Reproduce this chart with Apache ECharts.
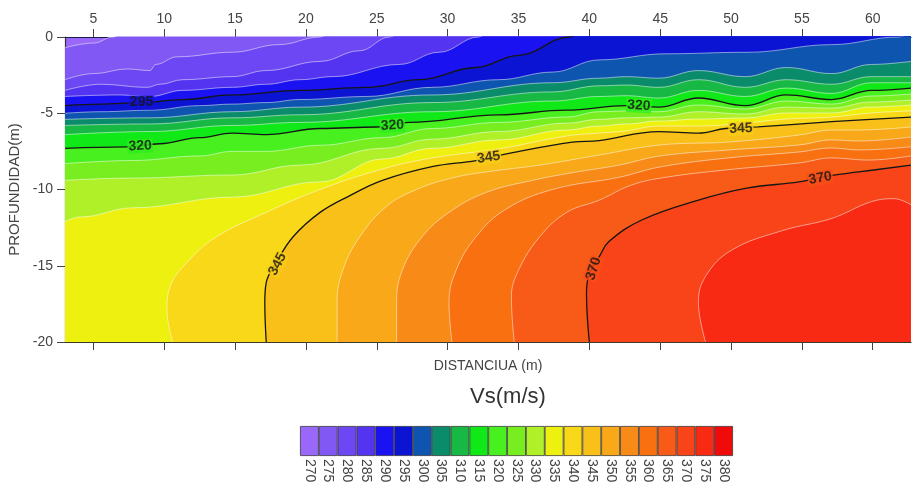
<!DOCTYPE html>
<html>
<head>
<meta charset="utf-8">
<title>Perfil Vs</title>
<script src="https://cdn.jsdelivr.net/npm/echarts@6/dist/echarts.min.js"></script>
<style>
  html,body{margin:0;padding:0;background:#fff;}
  #perfil-chart{width:912px;height:488px;}
</style>
</head>
<body>
<div id="perfil-chart"></div>
<script>
  /* escala de colores Vs (m/s) */
  var niveles = [270,275,280,285,290,295,300,305,310,315,320,325,330,335,340,345,350,355,360,365,370,375,380];
  var coloresNivel = ['#9a68f8','#8258f5','#6c47f3','#5434f1','#1a12f0','#0a14d2','#0e55b0','#0a8c6a','#18b844',
    '#10e818','#48f020','#78ee20','#b0f028','#eef010','#f8d818','#f8c018','#f8a818','#f88a18','#f87010',
    '#f85a18','#f84418','#f82a14','#f00a0a'];
  var ticksDistancia = [5,10,15,20,25,30,35,40,45,50,55,60];

  var iso275 = [[3,-0.7],[5,-0.4],[6.4,0],[8,1.5],[62.7,1.5]];
  var iso280 = [[3,-2.8],[5,-2.4],[7.4,-2.1],[9,-2.2],[9.4,-1.8],[10.9,-1.3],[14.8,-1.0],[18.1,-0.5],[21,0],[23,1.5],[62.7,1.5]];
  var iso285 = [[3,-3.5],[5.5,-3.1],[8.8,-3.3],[9.7,-3.1],[11.3,-2.8],[14.8,-2.6],[17.2,-2.2],[21,-1.6],[23.8,-0.9],[25.9,0],[28,1.5],[62.7,1.5]];
  var iso290 = [[3,-3.9],[6.7,-3.8],[9,-3.9],[11.3,-3.5],[14.8,-3.3],[17.2,-3.1],[19.6,-2.8],[21.9,-2.6],[26.6,-1.8],[29.4,-1.0],[32.2,0],[34,1.5],[62.7,1.5]];
  var iso295 = [[3,-4.5],[5.5,-4.4],[8.4,-4.3],[11.3,-4.1],[14.8,-3.8],[19.6,-3.5],[24.3,-3.3],[28,-2.8],[32,-2.0],[35,-1.2],[38.6,0],[40.5,1.5],[62.7,1.5]];
  var iso300 = [[3,-5.0],[5.5,-4.9],[9,-4.8],[12.5,-4.5],[14.8,-4.4],[17.2,-4.3],[19.6,-4.1],[24.3,-3.9],[28.9,-3.3],[33.6,-2.8],[37.4,-2.3],[40.7,-1.5],[45.4,-1.1],[51.2,-1.0],[57.1,-0.5],[61.8,0],[62.7,0.3]];
  var iso305 = [[3,-5.4],[9,-5.3],[14.8,-4.9],[19.6,-4.6],[28.9,-3.8],[37.4,-3.0],[40.7,-2.7],[42.6,-2.6],[44.9,-2.7],[47.7,-2.2],[51,-2.6],[53.9,-2.0],[57.1,-2.4],[59.9,-1.8],[62.7,-1.6]];
  var iso310 = [[3,-5.8],[9,-5.7],[14.8,-5.3],[19.6,-5.1],[28.9,-4.3],[37.4,-3.6],[40.7,-3.2],[42.6,-3.15],[44.9,-3.3],[47.7,-2.8],[51,-3.3],[53.9,-2.8],[57.1,-3.1],[59.9,-2.6],[62.7,-2.6]];
  var iso315 = [[3,-6.4],[9,-6.2],[14.8,-5.8],[19.6,-5.6],[28.9,-4.9],[37.4,-4.2],[40.7,-3.9],[42.6,-3.85],[44.9,-4.0],[47.7,-3.5],[51,-3.9],[53.9,-3.35],[57.1,-3.7],[59.9,-3.0],[62.7,-3.0]];
  var iso320 = [[3,-7.3],[7.4,-7.2],[9.7,-7.0],[12.5,-6.6],[14.8,-6.3],[17.2,-6.4],[21,-6.0],[25,-5.9],[27.3,-5.6],[33.6,-5.1],[38.4,-4.8],[42.6,-4.5],[44.9,-4.6],[47.7,-4.0],[51,-4.5],[53.9,-3.8],[57.1,-4.1],[59.9,-3.5],[62.7,-3.35]];
  var iso325 = [[3,-8.3],[7.8,-8.1],[12.5,-7.8],[14.8,-7.5],[17.2,-7.5],[21,-7.1],[25.4,-6.6],[28.9,-6.0],[33.6,-5.6],[38.4,-5.25],[40.7,-4.9],[42.6,-4.85],[44.9,-4.9],[47.7,-4.46],[51,-4.72],[53.9,-4.2],[57.1,-4.4],[59.9,-3.87],[62.7,-3.74]];
  var iso330 = [[3,-9.4],[7.8,-9.25],[14.8,-9.05],[19.6,-8.4],[25.4,-7.3],[28.9,-6.7],[33.6,-6.2],[38.4,-5.65],[40.7,-5.4],[42.6,-5.3],[44.9,-5.25],[47.7,-4.9],[51,-5.05],[53.9,-4.6],[57.1,-4.66],[59.9,-4.26],[62.7,-4.13]];
  var iso335 = [[3,-12.1],[4.1,-11.8],[7.8,-11.2],[14.8,-10.5],[21,-9.5],[25.4,-8.0],[28.9,-7.3],[33.6,-6.75],[38.4,-6.1],[40.7,-5.84],[42.6,-5.7],[44.9,-5.51],[47.7,-5.38],[51,-5.31],[53.9,-4.98],[57.1,-4.98],[59.9,-4.59],[62.7,-4.46]];
  var iso340 = [[10.6,-20],[10.2,-17.9],[10.4,-16.4],[11.6,-14.8],[13.7,-13.1],[17.2,-11.5],[21,-10.0],[25.4,-8.66],[28.9,-7.93],[33.6,-7.34],[38.4,-6.49],[40.7,-6.3],[42.6,-6.16],[44.9,-5.84],[47.7,-5.84],[51,-5.64],[53.9,-5.38],[57.1,-5.25],[59.9,-4.98],[62.7,-4.85]];
  var iso345 = [[17.2,-20],[17.1,-17.4],[17.2,-16.1],[17.9,-14.8],[19.1,-13.1],[21,-11.5],[23.1,-10.4],[25.4,-9.4],[28.9,-8.5],[32,-8.1],[34.5,-7.6],[38.8,-6.9],[40.7,-6.8],[44.9,-6.2],[47.7,-6.3],[49.6,-6.0],[51.9,-5.9],[57.1,-5.55],[62.7,-5.25]];
  var iso350 = [[22.2,-20],[22.2,-17.4],[22.6,-15.3],[23.8,-13.1],[25.7,-11.1],[27.8,-10.0],[30.3,-9.25],[32.7,-8.85],[36.5,-8.4],[40.7,-7.74],[45,-7.08],[49.8,-6.89],[54.8,-6.43],[57.1,-6.1],[59,-6.1],[62.7,-5.9]];
  var iso355 = [[26.4,-20],[26.4,-17.4],[26.8,-15.3],[28.2,-13.1],[30.1,-11.5],[32.7,-10.2],[36,-9.4],[38.8,-8.9],[42.1,-8.4],[45,-7.8],[49.8,-7.41],[54.8,-7.08],[57.1,-6.75],[59,-6.82],[62.7,-6.56]];
  var iso360 = [[30.3,-20],[30.1,-17.4],[30.6,-15.3],[32,-13.1],[34.1,-11.3],[37.4,-10.0],[42.1,-9.2],[45,-8.52],[49.8,-7.93],[54.8,-7.54],[57.1,-7.28],[59,-7.41],[62.7,-7.2]];
  var iso365 = [[34.7,-20],[34.5,-17.05],[35,-15.3],[36.5,-13.1],[38.4,-11.5],[40.7,-10.7],[43,-9.7],[45.4,-9.2],[49.6,-8.72],[54.8,-8.26],[57.1,-7.93],[59.7,-8.07],[62.7,-7.8]];
  var iso370 = [[40,-20],[39.8,-16.8],[40,-15.5],[40.7,-14.4],[41.4,-13.4],[43.7,-12.0],[47.7,-10.7],[51.2,-9.9],[54.8,-9.5],[56.9,-9.1],[59,-8.85],[62.7,-8.4]];
  var iso375 = [[48.2,-20],[47.7,-17.4],[48.2,-15.7],[50,-14.0],[53.6,-12.7],[57.1,-11.9],[59.9,-10.8],[61.5,-10.6],[62.7,-11.0]];

  var isolineas = [iso275,iso280,iso285,iso290,iso295,iso300,iso305,iso310,iso315,iso320,iso325,
    iso330,iso335,iso340,iso345,iso350,iso355,iso360,iso365,iso370,iso375];

  /* etiquetas de las isolineas negras */
  var etiquetasTexto = ['295','320','320','320','345','345','345','370','370'];
  var etiquetasPos = [[8.4,-4.3],[8.3,-7.15],[26.1,-5.8],[43.5,-4.5],[18,-14.9],[32.9,-7.9],[50.7,-6.0],[40.3,-15.2],[56.3,-9.25]];
  var etiquetasGiro = [0,3,3,-3,62,8,3,72,10];
  var etiquetasFondo = ['#1212d8','#30ec1c','#30ec1c','#30ec1c','#f8cc18','#f8cc18','#f8cc18','#f84f18','#f84f18'];

  var chart = echarts.init(document.getElementById('perfil-chart'));
  var fuente = 'Liberation Sans, Arial, sans-serif';

  var series = [];
  isolineas.forEach(function (iso, i) {
    var nivel = niveles[i + 1];
    var negra = (nivel - 270) % 25 === 0;
    series.push({
      type: 'line',
      xAxisIndex: 0,
      yAxisIndex: 0,
      data: iso,
      smooth: 0.4,
      smoothMonotone: nivel <= 335 ? 'x' : null,
      symbol: 'none',
      clip: true,
      silent: true,
      lineStyle: {color: negra ? '#161616' : 'rgba(255,255,255,0.5)', width: negra ? 1.3 : 1},
      areaStyle: {color: coloresNivel[i + 1], opacity: 1, origin: 'start'},
      z: 2
    });
  });

  // textos sobre las isolineas
  series.push({
    type: 'scatter',
    xAxisIndex: 0,
    yAxisIndex: 0,
    symbolSize: 2,
    itemStyle: {color: 'rgba(0,0,0,0)'},
    silent: true,
    z: 5,
    data: etiquetasPos.map(function (p, k) {
      return {value: p, label: {rotate: etiquetasGiro[k], backgroundColor: etiquetasFondo[k]}};
    }),
    label: {
      show: true,
      position: 'inside',
      formatter: function (p) { return etiquetasTexto[p.dataIndex]; },
      fontSize: 14,
      fontWeight: 'bold',
      fontFamily: fuente,
      color: '#151515',
      padding: [0, 1]
    }
  });

  /* barra de colores */
  series.push({
    type: 'bar',
    xAxisIndex: 2,
    yAxisIndex: 1,
    barCategoryGap: '0%',
    silent: true,
    data: coloresNivel.map(function (c) {
      return {value: 1, itemStyle: {color: c, borderColor: '#3a3a3a', borderWidth: 0.8}};
    })
  });

  var option = {
    animation: false,
    grid: [
      {left: 65, right: 1, top: 37, bottom: 146, show: true, backgroundColor: coloresNivel[0], borderWidth: 0, outerBoundsMode: 'none'},
      {left: 300, top: 426, width: 433, height: 30, outerBoundsMode: 'none'}
    ],
    graphic: [{
      type: 'text', x: 508, y: 397,
      style: {text: 'Vs(m/s)', font: '22px ' + fuente, fill: '#333', align: 'center', verticalAlign: 'middle'}
    }],
    xAxis: [
      {
        type: 'value', gridIndex: 0, position: 'top', min: 3, max: 62.7,
        axisLine: {show: true, lineStyle: {color: '#1c1c4a', width: 1.2}},
        axisTick: {show: true, length: 8, customValues: ticksDistancia, lineStyle: {color: '#444'}},
        axisLabel: {customValues: ticksDistancia, fontSize: 14, fontFamily: fuente, color: '#444', margin: 11},
        splitLine: {show: false}
      },
      {
        type: 'value', gridIndex: 0, position: 'bottom', min: 3, max: 62.7,
        name: 'DISTANCIUA (m)', nameLocation: 'middle', nameGap: 17,
        nameTextStyle: {fontSize: 14, fontFamily: fuente, color: '#444'},
        axisLine: {show: true, lineStyle: {color: '#3a3a2a', width: 1.2}},
        axisTick: {show: true, length: 8, customValues: ticksDistancia, lineStyle: {color: '#444'}},
        axisLabel: {show: false},
        splitLine: {show: false}
      },
      {
        type: 'category', gridIndex: 1, data: niveles.map(String),
        axisLine: {show: false}, axisTick: {show: false},
        axisLabel: {rotate: -90, fontSize: 14, fontFamily: fuente, color: '#444', margin: 3}
      }
    ],
    yAxis: [
      {
        type: 'value', gridIndex: 0, min: -20, max: 0, interval: 5,
        name: 'PROFUNDIDAD(m)', nameLocation: 'middle', nameGap: 40, nameRotate: 90,
        nameTextStyle: {fontSize: 15, fontFamily: fuente, color: '#444'},
        axisLine: {show: true, lineStyle: {color: '#333', width: 1.2}},
        axisTick: {show: true, length: 8, lineStyle: {color: '#444'}},
        axisLabel: {fontSize: 14, fontFamily: fuente, color: '#444', margin: 12},
        splitLine: {show: false}
      },
      {type: 'value', gridIndex: 1, min: 0, max: 1, show: false}
    ],
    series: series
  };
  chart.setOption(option);
</script>
</body>
</html>
